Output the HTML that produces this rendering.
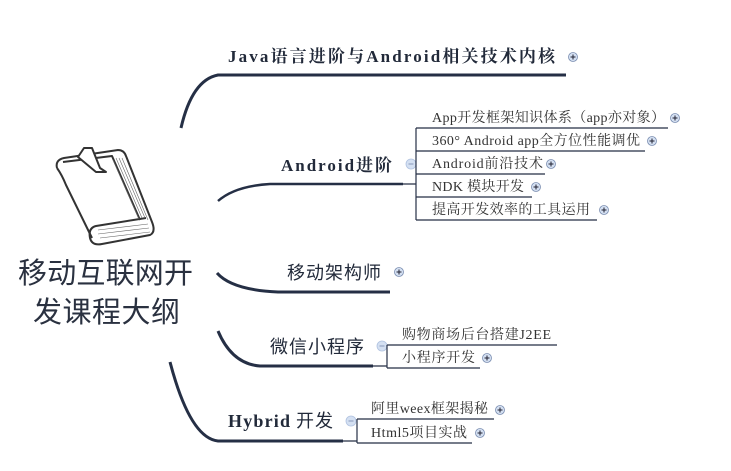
<!DOCTYPE html>
<html><head><meta charset="utf-8"><style>
html,body{margin:0;padding:0;background:#fff;}
svg{display:block}
.s{font-family:"Liberation Serif","Noto Serif CJK SC",serif;font-size:14px;fill:#333;}
.b{font-family:"Liberation Serif","Noto Serif CJK SC",serif;font-size:17px;font-weight:bold;fill:#222a3a;}
.m{font-family:"Liberation Sans","Noto Sans CJK SC",sans-serif;font-size:18px;fill:#222a3a;}
.t{font-family:"Liberation Sans","Noto Sans CJK SC",sans-serif;font-size:29px;fill:#2a3140;}
</style></head><body>
<svg width="731" height="471" viewBox="0 0 731 471" xmlns="http://www.w3.org/2000/svg">
<defs>
<g id="plus"><circle r="4.5" fill="#d4e0f2" stroke="#7a8db0" stroke-width="0.8"/><path d="M-2.5 0H2.5M0 -2.5V2.5" stroke="#223" stroke-width="1"/></g>
<g id="minus"><circle r="5" fill="#d4e0f2" stroke="#b0c2e0" stroke-width="0.8"/><path d="M-2.5 0H2.5" stroke="#8899bb" stroke-width="1"/></g>
</defs>
<!-- book -->
<g fill="none" stroke="#333" stroke-width="2" stroke-linejoin="round">
<path d="M57 168 Q55 160 64 158 L118 150 Q124 150 126 156 L152 222 Q156 232 150 235 L102 244 Q92 246 90 238 Q88 228 96 226 L146 218"/>
<path d="M57 168 Q62 175 66 185 L92 238"/>
<path d="M63 162 L112 156 L140 220"/>
<path d="M78 157 L84 148 L92 148 L100 168 L106 172 L96 172 Z" fill="#fff"/>
</g>
<g stroke="#666" stroke-width="0.6">
<path d="M116 158 L142 218 M119 158 L145 218 M122 158 L148 220 M113 160 L139 219"/>
<path d="M98 230 L148 224 M98 234 L149 228 M100 238 L150 232"/>
</g>
<text class="t" x="18" y="283" textLength="175" lengthAdjust="spacing">移动互联网开</text>
<text class="t" x="33" y="322" textLength="147" lengthAdjust="spacing">发课程大纲</text>
<!-- main branches -->
<g fill="none" stroke="#252f45" stroke-width="3">
<path d="M181 128 Q192 80 218 75 L566 75"/>
<path d="M218 201 Q235 186 270 184 L403 184" stroke-width="2.5"/>
<path d="M217 273 Q232 290 278 292 L390 292"/>
<path d="M218 331 Q232 364 260 366 L373 366"/>
<path d="M170 362 Q190 438 218 441 L343 441"/>
</g>
<text class="b" x="228" y="62" textLength="327" lengthAdjust="spacing">Java语言进阶与Android相关技术内核</text>
<use href="#plus" x="573" y="57"/>
<text class="b" x="281" y="171" textLength="111" lengthAdjust="spacing">Android进阶</text>
<use href="#minus" x="411" y="164"/>
<text class="m" x="287" y="279" textLength="94" lengthAdjust="spacing">移动架构师</text>
<use href="#plus" x="399" y="272"/>
<text class="m" x="270" y="353" textLength="94" lengthAdjust="spacing">微信小程序</text>
<use href="#minus" x="382" y="346"/>
<text class="b" x="228" y="427" textLength="62" lengthAdjust="spacing" style="font-size:18px">Hybrid</text>
<text class="m" x="296" y="427" textLength="37" lengthAdjust="spacing">开发</text>
<use href="#minus" x="351" y="421"/>
<!-- sub lines -->
<g fill="none" stroke="#252f45" stroke-width="1.2">
<path d="M403 184H416 M416 128V220 M416 128H668 M416 151H645 M416 174H545 M416 197H532 M416 220H597"/>
<path d="M373 366H387 M387 345V368 M387 345H557 M387 368H480"/>
<path d="M343 441H357 M357 419V443 M357 419H494 M357 443H472"/>
</g>
<text class="s" x="432" y="122" textLength="233" lengthAdjust="spacing">App开发框架知识体系（app亦对象）</text><use href="#plus" x="675" y="118"/>
<text class="s" x="432" y="145" textLength="208" lengthAdjust="spacing">360° Android app全方位性能调优</text><use href="#plus" x="652" y="141"/>
<text class="s" x="432" y="168" textLength="111" lengthAdjust="spacing">Android前沿技术</text><use href="#plus" x="551" y="164"/>
<text class="s" x="432" y="191" textLength="92" lengthAdjust="spacing">NDK 模块开发</text><use href="#plus" x="536" y="187"/>
<text class="s" x="432" y="214" textLength="158" lengthAdjust="spacing">提高开发效率的工具运用</text><use href="#plus" x="604" y="210"/>
<text class="s" x="402" y="339" textLength="149" lengthAdjust="spacing">购物商场后台搭建J2EE</text>
<text class="s" x="402" y="362" textLength="73" lengthAdjust="spacing">小程序开发</text><use href="#plus" x="487" y="358"/>
<text class="s" x="371" y="413" textLength="117" lengthAdjust="spacing">阿里weex框架揭秘</text><use href="#plus" x="500" y="410"/>
<text class="s" x="371" y="437" textLength="96" lengthAdjust="spacing">Html5项目实战</text><use href="#plus" x="480" y="433"/>
</svg>
</body></html>
